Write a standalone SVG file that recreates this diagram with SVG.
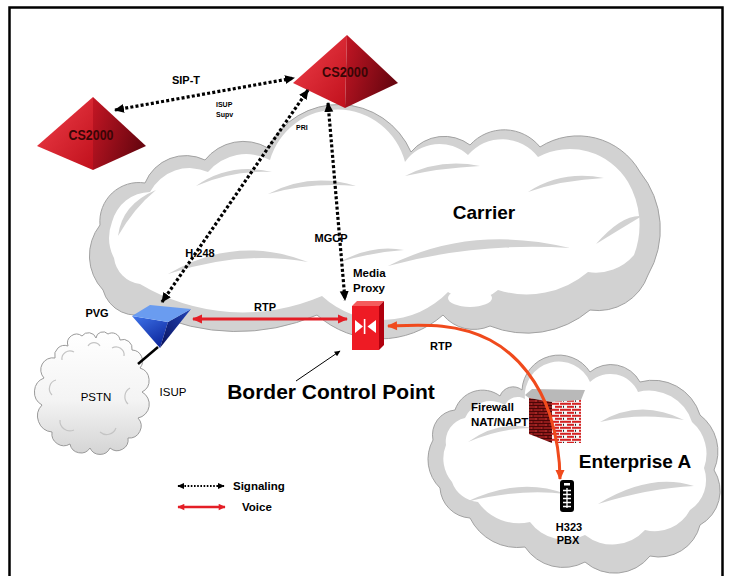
<svg xmlns="http://www.w3.org/2000/svg" width="731" height="576" viewBox="0 0 731 576">
  <style>
    .lbl { font-family: "Liberation Sans", Arial, sans-serif; font-weight: bold; fill: #000; }
    .reg { font-family: "Liberation Sans", Arial, sans-serif; font-weight: normal; fill: #000; }
    .cs { font-family: "Liberation Sans", Arial, sans-serif; font-weight: bold; fill: #3a0606; }
    .cloud-out { fill: #d2d2d2; stroke: #a2a2a2; stroke-width: 1; }
    .cloud-in { fill: #ffffff; }
    .swoosh { fill: #d2d2d2; }
    .sig { fill: none; stroke: #000; stroke-width: 3.2; stroke-dasharray: 3 2.2; }
    .voice { fill: none; stroke: #e41e26; stroke-width: 3; }
    .voice2 { fill: none; stroke: #f04a1c; stroke-width: 3; }
  </style>
  <defs>
    <marker id="ahSig" viewBox="0 0 10 10" refX="9" refY="5" markerWidth="10" markerHeight="10" markerUnits="userSpaceOnUse" orient="auto-start-reverse">
      <path d="M0,0.5 L10,5 L0,9.5 z" fill="#000"/>
    </marker>
    <marker id="ahSigSm" viewBox="0 0 10 10" refX="9" refY="5" markerWidth="7" markerHeight="7" markerUnits="userSpaceOnUse" orient="auto-start-reverse">
      <path d="M0,0.5 L10,5 L0,9.5 z" fill="#000"/>
    </marker>
    <marker id="ahRed" viewBox="0 0 10 10" refX="9" refY="5" markerWidth="11" markerHeight="10" markerUnits="userSpaceOnUse" orient="auto-start-reverse">
      <path d="M0,0.5 L10,5 L0,9.5 z" fill="#e41e26"/>
    </marker>
    <marker id="ahRedSm" viewBox="0 0 10 10" refX="9" refY="5" markerWidth="8" markerHeight="7" markerUnits="userSpaceOnUse" orient="auto-start-reverse">
      <path d="M0,0.5 L10,5 L0,9.5 z" fill="#e41e26"/>
    </marker>
    <marker id="ahOrange" viewBox="0 0 10 10" refX="9" refY="5" markerWidth="11" markerHeight="10" markerUnits="userSpaceOnUse" orient="auto-start-reverse">
      <path d="M0,0.5 L10,5 L0,9.5 z" fill="#f04a1c"/>
    </marker>
    <marker id="ahThin" viewBox="0 0 10 10" refX="9" refY="5" markerWidth="7" markerHeight="6" markerUnits="userSpaceOnUse" orient="auto">
      <path d="M0,0.5 L10,5 L0,9.5 z" fill="#000"/>
    </marker>

    <linearGradient id="pyrLeft" x1="0" y1="0" x2="1" y2="1">
      <stop offset="0" stop-color="#f0404a"/>
      <stop offset="1" stop-color="#c0101c"/>
    </linearGradient>
    <linearGradient id="pyrRight" x1="0" y1="0" x2="1" y2="0.4">
      <stop offset="0" stop-color="#c41624"/>
      <stop offset="1" stop-color="#6a0610"/>
    </linearGradient>
    <linearGradient id="pvgFront" x1="0" y1="0" x2="0.6" y2="1">
      <stop offset="0" stop-color="#3f74ea"/>
      <stop offset="1" stop-color="#0f2aa0"/>
    </linearGradient>
    <linearGradient id="pvgRight" x1="1" y1="0" x2="0" y2="1">
      <stop offset="0" stop-color="#2244b8"/>
      <stop offset="1" stop-color="#08105a"/>
    </linearGradient>
    <linearGradient id="pstnShade" x1="0" y1="0" x2="0" y2="1">
      <stop offset="0" stop-color="#ffffff"/>
      <stop offset="0.55" stop-color="#f4f4f4"/>
      <stop offset="1" stop-color="#d4d4d4"/>
    </linearGradient>

    <pattern id="brickDark" width="10" height="6" patternUnits="userSpaceOnUse">
      <rect width="10" height="6" fill="#8e1a1a"/>
      <path d="M0,0.5H10 M0,3.5H10 M3,0.5V3.5 M8,3.5V6" stroke="#4a0606" stroke-width="1"/>
      <path d="M1,2H2.5 M5,5H7" stroke="#c03030" stroke-width="1"/>
    </pattern>
    <pattern id="brickLight" width="12" height="6" patternUnits="userSpaceOnUse">
      <rect width="12" height="6" fill="#f6f6f6"/>
      <rect x="0" y="0.8" width="7" height="2" fill="#d42222"/>
      <rect x="8" y="0.8" width="4" height="2" fill="#d42222"/>
      <rect x="3" y="3.8" width="7" height="2" fill="#d42222"/>
      <rect x="11" y="3.8" width="1" height="2" fill="#222"/>
    </pattern>
  </defs>

  <rect width="731" height="576" fill="#ffffff"/>
  <!-- outer frame -->
  <rect x="9.5" y="7.5" width="713" height="580" fill="none" stroke="#000" stroke-width="2.5"/>

  <!-- Carrier cloud: grey body, white puffs, grey shadow swooshes -->
  <g id="carrier-cloud">
    <path class="cloud-out" d="M150,312 A34 34 0 0 1 103,290 A50 50 0 0 1 100,225 A39 39 0 0 1 145,183 A44 44 0 0 1 205,160 A49 49 0 0 1 268,148 A79 79 0 0 1 411,152 A43 43 0 0 1 470,145 A46 46 0 0 1 540,147 A71 71 0 0 1 640,172 A91 91 0 0 1 648,275 A53 53 0 0 1 590,310 A98 98 0 0 1 490,326 A40 40 0 0 1 443,315 A95 95 0 0 1 317,315 A203 203 0 0 1 150,312 Z"/>
    <path class="cloud-in" d="M140,284 A30 30 0 0 1 114,258 A45 45 0 0 1 112,222 A40 40 0 0 1 150,192 A45 45 0 0 1 208,172 A50 50 0 0 1 270,160 A70 70 0 0 1 405,162 A42 42 0 0 1 468,155 A45 45 0 0 1 538,157 A68 68 0 0 1 628,182 A85 85 0 0 1 634,255 A50 50 0 0 1 588,272 A95 95 0 0 1 498,290 A40 40 0 0 1 448,292 A90 90 0 0 1 322,296 A200 200 0 0 1 140,284 Z"/>
    <!-- lower puffs -->
    <ellipse cx="258" cy="296" rx="30" ry="10" fill="#fff"/>
    <ellipse cx="470" cy="298" rx="22" ry="9" fill="#fff"/>
    <ellipse cx="372" cy="300" rx="26" ry="11" fill="#fff"/>
    <path class="swoosh" d="M196,186 Q230,162 272,172 Q232,170 196,186 Z"/>
    <path class="swoosh" d="M118,236 Q122,204 156,190 Q134,208 118,236 Z"/>
    <path class="swoosh" d="M268,194 Q310,172 356,186 Q310,182 268,194 Z"/>
    <path class="swoosh" d="M405,176 Q440,158 480,166 Q440,168 405,176 Z"/>
    <path class="swoosh" d="M528,192 Q562,170 604,178 Q562,180 528,192 Z"/>
    <path class="swoosh" d="M168,274 Q236,234 308,262 Q240,250 168,274 Z"/>
    <path class="swoosh" d="M388,266 Q470,224 570,248 Q476,242 388,266 Z"/>
    <path class="swoosh" d="M596,244 Q622,214 642,216 Q622,228 596,244 Z"/>
    <path class="swoosh" d="M340,262 Q372,244 404,250 Q372,252 340,262 Z"/>
  </g>

  <!-- Enterprise cloud -->
  <g id="enterprise-cloud">
    <path class="cloud-out" d="M440,488 A40 40 0 0 1 433,440 A25 25 0 0 1 455,410 A29 29 0 0 1 500,396 A14 14 0 0 1 522,390 A37 37 0 0 1 590,372 A33 33 0 0 1 640,382 A49 49 0 0 1 700,415 A46 46 0 0 1 714,470 A39 39 0 0 1 700,525 A42 42 0 0 1 650,556 A45 45 0 0 1 585,562 A46 46 0 0 1 525,547 A53 53 0 0 1 470,518 A32 32 0 0 1 440,488 Z"/>
    <path class="cloud-in" d="M452,482 A36 36 0 0 1 446,445 A24 24 0 0 1 465,418 A28 28 0 0 1 505,405 A14 14 0 0 1 525,399 A34 34 0 0 1 590,382 A30 30 0 0 1 638,392 A45 45 0 0 1 692,422 A42 42 0 0 1 704,468 A36 36 0 0 1 690,510 A40 40 0 0 1 645,530 A44 44 0 0 1 585,535 A44 44 0 0 1 530,522 A50 50 0 0 1 478,502 A30 30 0 0 1 452,482 Z"/>
    <path class="swoosh" d="M468,442 Q498,420 532,428 Q500,428 468,442 Z"/>
    <path class="swoosh" d="M600,422 Q640,398 684,420 Q640,412 600,422 Z"/>
    <path class="swoosh" d="M466,502 Q520,476 566,494 Q520,488 466,502 Z"/>
    <path class="swoosh" d="M598,504 Q650,472 694,486 Q650,488 598,504 Z"/>
  </g>

  <!-- PSTN cloud -->
  <g id="pstn">
    <path d="M52,432 A16 16 0 0 1 42,405 A15 15 0 0 1 44,378 A12 12 0 0 1 55,358 A10 10 0 0 1 68,346 A9 9 0 0 1 82,336 A8 8 0 0 1 96,338 A7 7 0 0 1 108,334 A8 8 0 0 1 120,340 A9 9 0 0 1 132,350 A11 11 0 0 1 140,368 A13 13 0 0 1 142,392 A14 14 0 0 1 138,418 A12 12 0 0 1 128,438 A11 11 0 0 1 110,448 A11 11 0 0 1 90,448 A11 11 0 0 1 70,444 A12 12 0 0 1 52,432 Z" fill="url(#pstnShade)" stroke="#9a9a9a" stroke-width="1"/>
    <path d="M62,360 A8 8 0 0 1 74,352 M88,346 A7 7 0 0 1 100,346 M112,348 A8 8 0 0 1 124,356 M60,420 A10 10 0 0 0 74,430 M100,432 A10 10 0 0 0 116,428 M52,395 A9 9 0 0 1 56,380 M130,388 A10 10 0 0 0 128,404" fill="none" stroke="#c4c4c4" stroke-width="1.2"/>
    <text class="reg" x="96" y="401" font-size="11.5" text-anchor="middle">PSTN</text>
  </g>

  <!-- Softswitches -->
  <g id="cs2000-top">
    <polygon points="347,35 293,83 345,108" fill="url(#pyrLeft)"/>
    <polygon points="347,35 345,108 398,83" fill="url(#pyrRight)"/>
    <text class="cs" x="345" y="77" font-size="14" text-anchor="middle" textLength="46" lengthAdjust="spacingAndGlyphs">CS2000</text>
  </g>
  <g id="cs2000-left">
    <polygon points="93,97 37,146 93,170" fill="url(#pyrLeft)"/>
    <polygon points="93,97 93,170 146,146" fill="url(#pyrRight)"/>
    <text class="cs" x="91" y="140" font-size="14" text-anchor="middle" textLength="45" lengthAdjust="spacingAndGlyphs">CS2000</text>
  </g>

  <!-- Packet voice gateway -->
  <g id="pvg">
    <polygon points="132,316 168,322 160,348" fill="url(#pvgFront)"/>
    <polygon points="168,322 191,309 160,348" fill="url(#pvgRight)"/>
    <polygon points="132,316 150,305 191,309 168,322" fill="#6a9cf0"/>
    <line x1="158" y1="347" x2="138" y2="364" stroke="#000" stroke-width="2.5"/>
    <text class="lbl" x="97" y="317" font-size="11" text-anchor="middle">PVG</text>
  </g>

  <!-- Media proxy (border control point) -->
  <g id="media-proxy">
    <polygon points="352,306 357,301 384,301 379,306" fill="#f45c5c"/>
    <polygon points="379,306 384,301 384,345 379,350" fill="#b0000e"/>
    <rect x="352" y="306" width="27" height="44" fill="#ee1b24"/>
    <polygon points="355,320 355,333 363,326.5" fill="#fff"/>
    <rect x="363.8" y="319" width="1.6" height="15" fill="#fff"/>
    <polygon points="376,320 376,333 367.5,326.5" fill="#fff"/>
    <text class="lbl" x="353" y="277" font-size="11.5">Media</text>
    <text class="lbl" x="353" y="292" font-size="11.5">Proxy</text>
  </g>

  <!-- Firewall -->
  <g id="firewall">
    <polygon points="525,395 532,389 585,390 581,400 552,402 529,398" fill="#b9b9b9"/>
    <polygon points="529,398 552,402 552,443 529,434" fill="url(#brickDark)"/>
    <polygon points="552,402 581,400 581,443 552,443" fill="url(#brickLight)"/>
    <text class="lbl" x="471" y="411" font-size="11.5">Firewall</text>
    <text class="lbl" x="471" y="426" font-size="11.5">NAT/NAPT</text>
  </g>

  <!-- H323 PBX -->
  <g id="pbx">
    <rect x="560" y="480" width="14" height="32" rx="3" fill="#000"/>
    <rect x="564" y="483" width="6" height="2.5" fill="#fff"/>
    <path d="M567,488 V508 M563,490.5 H571 M563,494.5 H571 M563,498.5 H571 M563,502.5 H571 M563,506.5 H571" stroke="#fff" stroke-width="1.3"/>
    <text class="lbl" x="569" y="531" font-size="11" text-anchor="middle">H323</text>
    <text class="lbl" x="568" y="544" font-size="11" text-anchor="middle">PBX</text>
  </g>

  <!-- Cloud / area titles -->
  <g id="titles">
    <text class="lbl" x="484" y="219" font-size="19" text-anchor="middle">Carrier</text>
    <text class="lbl" x="635" y="468" font-size="19" text-anchor="middle">Enterprise A</text>
    <text class="lbl" x="331" y="399" font-size="21" text-anchor="middle">Border Control Point</text>
  </g>

  <!-- Connectors -->
  <g id="connectors">
    <line class="sig" x1="115" y1="110" x2="294" y2="78" marker-start="url(#ahSig)" marker-end="url(#ahSig)"/>
    <line class="sig" x1="308" y1="90" x2="162" y2="302" marker-start="url(#ahSig)" marker-end="url(#ahSig)"/>
    <line class="sig" x1="328" y1="103" x2="345" y2="300" marker-start="url(#ahSig)" marker-end="url(#ahSig)"/>
    <line class="voice" x1="193" y1="319" x2="347" y2="319" marker-start="url(#ahRed)" marker-end="url(#ahRed)"/>
    <path class="voice2" d="M388,326 C420,325 455,322 490,340 C520,356 540,385 550,415 C557,438 560,460 560,479" marker-start="url(#ahOrange)" marker-end="url(#ahOrange)"/>
    <line x1="296" y1="381" x2="340" y2="351" stroke="#000" stroke-width="1" marker-end="url(#ahThin)"/>

    <text class="lbl" x="186" y="84" font-size="11" text-anchor="middle">SIP-T</text>
    <text class="lbl" x="216" y="106.5" font-size="7">ISUP</text>
    <text class="lbl" x="216" y="117" font-size="7">Supv</text>
    <text class="lbl" x="296" y="129.5" font-size="7">PRI</text>
    <text class="lbl" x="200" y="257" font-size="11" text-anchor="middle">H.248</text>
    <text class="lbl" x="331" y="242" font-size="11" text-anchor="middle">MGCP</text>
    <text class="lbl" x="265" y="311" font-size="11" text-anchor="middle">RTP</text>
    <text class="lbl" x="441" y="350" font-size="11" text-anchor="middle">RTP</text>
    <text class="reg" x="173" y="396" font-size="11.5" text-anchor="middle">ISUP</text>
  </g>

  <!-- Legend -->
  <g id="legend">
    <line x1="178" y1="486" x2="224" y2="486" stroke="#000" stroke-width="2" stroke-dasharray="1.6 1.6" marker-start="url(#ahSigSm)" marker-end="url(#ahSigSm)"/>
    <text class="lbl" x="233" y="490" font-size="11.5">Signaling</text>
    <line x1="178" y1="507" x2="225" y2="507" stroke="#e41e26" stroke-width="2.5" marker-start="url(#ahRedSm)" marker-end="url(#ahRedSm)"/>
    <text class="lbl" x="242" y="511" font-size="11.5">Voice</text>
  </g>
</svg>
